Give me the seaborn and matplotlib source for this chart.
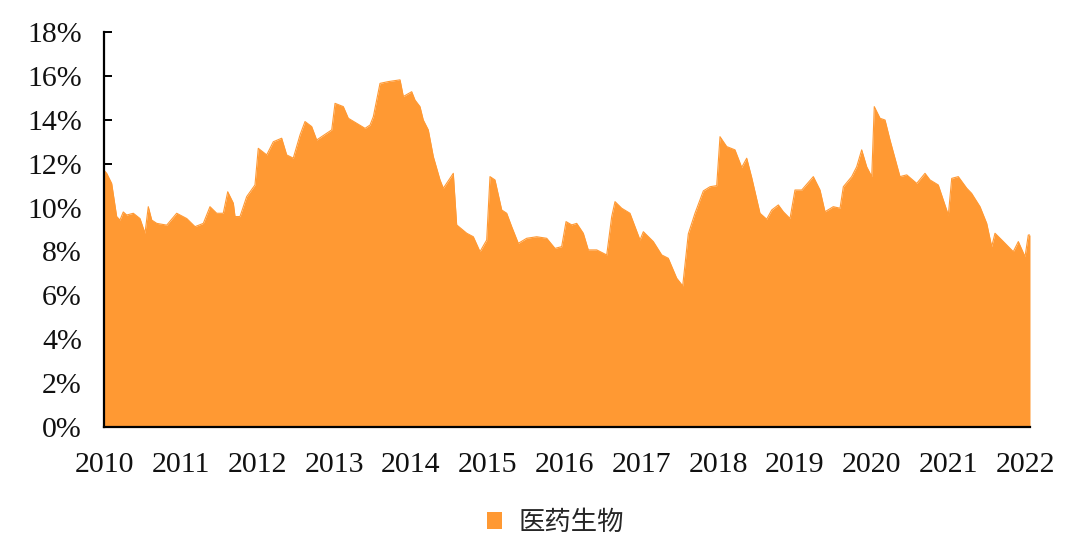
import matplotlib
matplotlib.use("Agg")
import matplotlib.pyplot as plt
from matplotlib.patches import Patch
import seaborn as sns
import pandas as pd

# fractional years since 2010 and share (%)
years = [
    0.000, 0.035, 0.100, 0.165, 0.208, 0.251, 0.296, 0.382, 0.469, 0.534,
    0.577, 0.622, 0.687, 0.817, 0.947, 1.078, 1.186, 1.294, 1.381, 1.468,
    1.554, 1.612, 1.685, 1.707, 1.772, 1.859, 1.967, 2.010, 2.120, 2.206,
    2.315, 2.380, 2.466, 2.554, 2.619, 2.706, 2.771, 2.902, 2.967, 3.010,
    3.118, 3.183, 3.293, 3.401, 3.466, 3.509, 3.596, 3.704, 3.857, 3.900,
    4.009, 4.052, 4.117, 4.160, 4.225, 4.291, 4.378, 4.421, 4.551, 4.595,
    4.726, 4.812, 4.899, 4.986, 5.029, 5.094, 5.182, 5.247, 5.312, 5.398,
    5.507, 5.638, 5.768, 5.876, 5.963, 6.020, 6.094, 6.159, 6.245, 6.310,
    6.420, 6.550, 6.615, 6.658, 6.745, 6.853, 6.984, 7.027, 7.157, 7.267,
    7.352, 7.462, 7.540, 7.613, 7.700, 7.809, 7.896, 7.983, 8.026, 8.113,
    8.221, 8.309, 8.374, 8.439, 8.547, 8.634, 8.700, 8.786, 8.851, 8.938,
    9.003, 9.091, 9.242, 9.329, 9.394, 9.502, 9.590, 9.633, 9.742, 9.807,
    9.872, 9.937, 10.003, 10.036, 10.111, 10.176, 10.241, 10.371, 10.459, 10.589,
    10.697, 10.762, 10.870, 10.935, 11.001, 11.045, 11.131, 11.241, 11.304, 11.414,
    11.501, 11.566, 11.609, 11.718, 11.847, 11.913, 12.000, 12.043, 12.065,
]
share = [
    11.7, 11.56, 11.1, 9.59, 9.43, 9.8, 9.66, 9.74, 9.5, 8.83,
    10.04, 9.43, 9.28, 9.2, 9.74, 9.5, 9.13, 9.28, 10.04, 9.74,
    9.74, 10.72, 10.2, 9.59, 9.59, 10.5, 11.03, 12.7, 12.4, 13.0,
    13.16, 12.4, 12.25, 13.31, 13.92, 13.69, 13.08, 13.39, 13.54, 14.75,
    14.6, 14.07, 13.84, 13.61, 13.76, 14.14, 15.66, 15.74, 15.82, 15.06,
    15.28, 14.9, 14.6, 13.99, 13.54, 12.32, 11.26, 10.88, 11.56, 9.21,
    8.83, 8.67, 7.99, 8.52, 11.41, 11.26, 9.89, 9.74, 9.13, 8.37,
    8.6, 8.67, 8.6, 8.14, 8.22, 9.36, 9.21, 9.28, 8.83, 8.07,
    8.07, 7.84, 9.59, 10.27, 9.97, 9.74, 8.52, 8.9, 8.45, 7.84,
    7.69, 6.78, 6.43, 8.8, 9.74, 10.76, 10.95, 11.0, 13.23, 12.78,
    12.63, 11.83, 12.25, 11.37, 9.74, 9.47, 9.89, 10.12, 9.81, 9.5,
    10.8, 10.8, 11.41, 10.8, 9.81, 10.04, 9.97, 10.95, 11.41, 11.86,
    12.63, 11.86, 11.41, 14.6, 14.07, 13.99, 13.08, 11.41, 11.49, 11.1,
    11.56, 11.26, 11.03, 10.35, 9.66, 11.33, 11.41, 10.88, 10.65, 10.04,
    9.28, 8.22, 8.83, 8.45, 7.99, 8.45, 7.76, 8.75, 8.75,
]
year_labels = [str(y) for y in range(2010, 2023)]
y_ticks = list(range(0, 19, 2))
series_name = "医药生物"

df = pd.DataFrame({"year": [2010 + y for y in years], "share": share})

sns.set_style("ticks")
plt.rcParams["font.family"] = ["Liberation Serif", "DejaVu Serif"]

color = "#FF9933"
fig = plt.figure(figsize=(10.8, 5.49), dpi=100)
ax = fig.add_axes([0.0963, 0.2222, 0.8574, 0.7195])

sns.lineplot(data=df, x="year", y="share", color=color, linewidth=0.8, ax=ax)
ax.fill_between(df["year"], 0, df["share"], color=color, linewidth=0)

ax.set_xlim(2010, 2022.065)
ax.set_ylim(0, 18)
ax.set_xticks(range(2010, 2023))
ax.set_xticklabels(year_labels)
ax.set_yticks(y_ticks)
ax.set_yticklabels([f"{t}%" for t in y_ticks])
ax.set_xlabel("")
ax.set_ylabel("")

for side in ["top", "right"]:
    ax.spines[side].set_visible(False)
for side in ["left", "bottom"]:
    ax.spines[side].set_color("black")
    ax.spines[side].set_linewidth(1.6)
    ax.spines[side].set_zorder(5)

ax.tick_params(axis="y", direction="in", length=6, width=1.4, color="black",
               labelsize=21.5, pad=16, labelcolor="#111111")
ax.tick_params(axis="x", length=0, labelsize=21.5, pad=18, labelcolor="#111111")

handle = Patch(facecolor=color, edgecolor="none")
fig.legend([handle], [series_name], loc="center", bbox_to_anchor=(0.514, 0.049),
           frameon=False, handlelength=0.6, handleheight=0.6, handletextpad=0.6,
           prop={"family": ["Noto Sans CJK SC", "DejaVu Sans"], "size": 19})

fig.savefig("out.png", dpi=100)
plt.close(fig)
